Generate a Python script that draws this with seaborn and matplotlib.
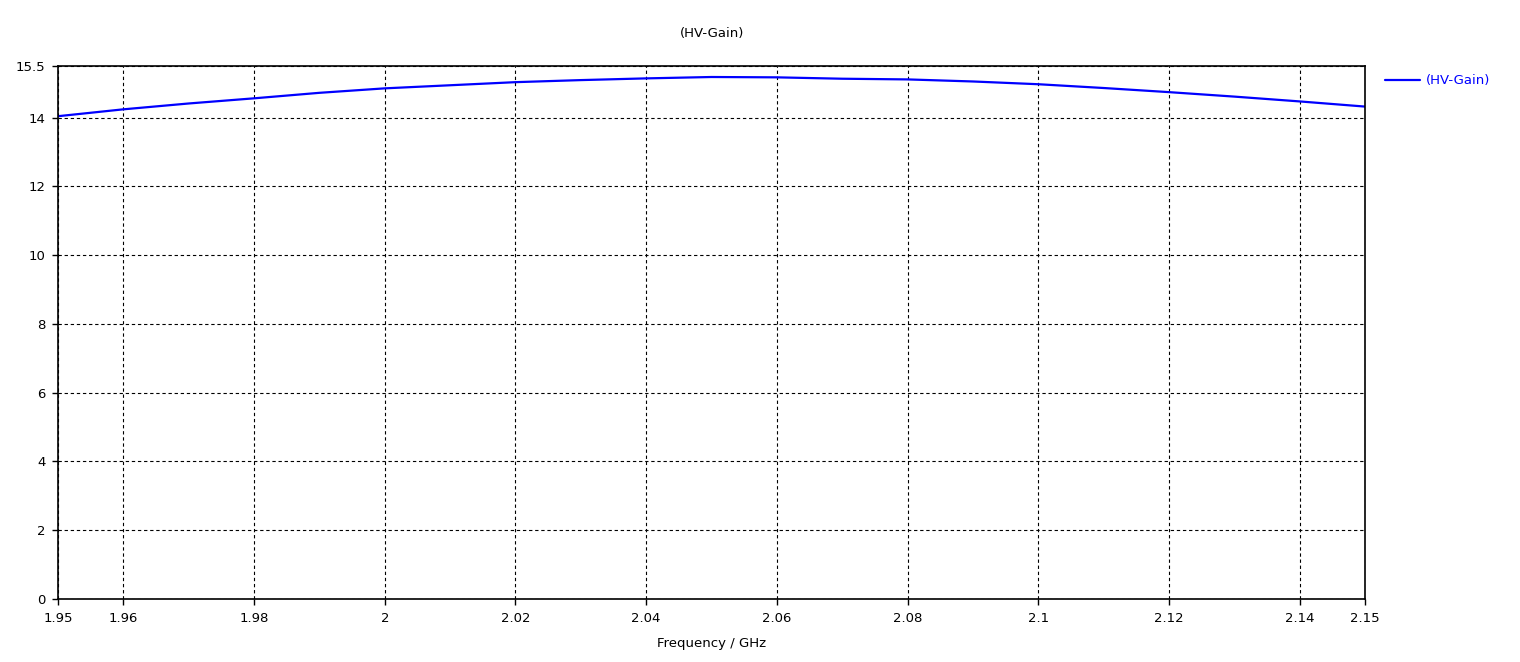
import matplotlib
matplotlib.use("Agg")
import matplotlib.pyplot as plt
import seaborn as sb
import pandas as pd

# Frequency sweep (GHz) and HV gain
freq = [1.95, 1.96, 1.97, 1.98, 1.99, 2.00, 2.01, 2.02, 2.03, 2.04, 2.05,
        2.06, 2.07, 2.08, 2.09, 2.10, 2.11, 2.12, 2.13, 2.14, 2.15]
gain = [14.04, 14.24, 14.41, 14.56, 14.72, 14.85, 14.94, 15.03, 15.09, 15.14, 15.18,
        15.17, 15.13, 15.11, 15.05, 14.97, 14.86, 14.74, 14.61, 14.47, 14.32]

xTicks = [1.95, 1.96, 1.98, 2.0, 2.02, 2.04, 2.06, 2.08, 2.1, 2.12, 2.14, 2.15]
xTickLabels = ["1.95", "1.96", "1.98", "2", "2.02", "2.04", "2.06", "2.08", "2.1", "2.12", "2.14", "2.15"]
yTicks = [0, 2, 4, 6, 8, 10, 12, 14, 15.5]
yTickLabels = ["0", "2", "4", "6", "8", "10", "12", "14", "15.5"]

sb.set_style("white")
plt.rcParams['font.family'] = ['DejaVu Sans']
plt.rcParams['text.color'] = 'black'
plt.rcParams['axes.labelcolor'] = 'black'

df = pd.DataFrame({"Frequency": freq, "Gain": gain})

fig = plt.figure(figsize=(15.2, 6.62), dpi=100)
ax = fig.add_axes([58 / 1520, 1 - 599 / 662, (1365 - 58) / 1520, (599 - 66) / 662])

sb.lineplot(data=df, x="Frequency", y="Gain", color="#0000ff", linewidth=1.6,
            label="(HV-Gain)", ax=ax)

ax.set_xlim(1.95, 2.15)
ax.set_ylim(0, 15.5)
ax.set_xticks(xTicks)
ax.set_xticklabels(xTickLabels)
ax.set_yticks(yTicks)
ax.set_yticklabels(yTickLabels)
ax.tick_params(axis="both", direction="out", length=4, width=1, color="black",
               labelsize=9.5, labelcolor="black", pad=5, bottom=True, left=True)

# dashed black grid
ax.grid(True, color="black", linestyle=(0, (3, 2.5)), linewidth=0.8)
for s in ax.spines.values():
    s.set_color("black")
    s.set_linewidth(1.2)

ax.set_xlabel("Frequency / GHz", fontsize=9.5, labelpad=9)
ax.set_ylabel("")
fig.text(712 / 1520, 1 - 33 / 662, "(HV-Gain)", ha="center", va="center", fontsize=9.5)

leg = ax.legend(loc="upper left", bbox_to_anchor=(1.0115, 0.994), frameon=False,
                handlelength=2.6, handletextpad=0.45, fontsize=9.5, borderaxespad=0)
for t in leg.get_texts():
    t.set_color("#0000ff")

fig.savefig("out.png", dpi=100)
